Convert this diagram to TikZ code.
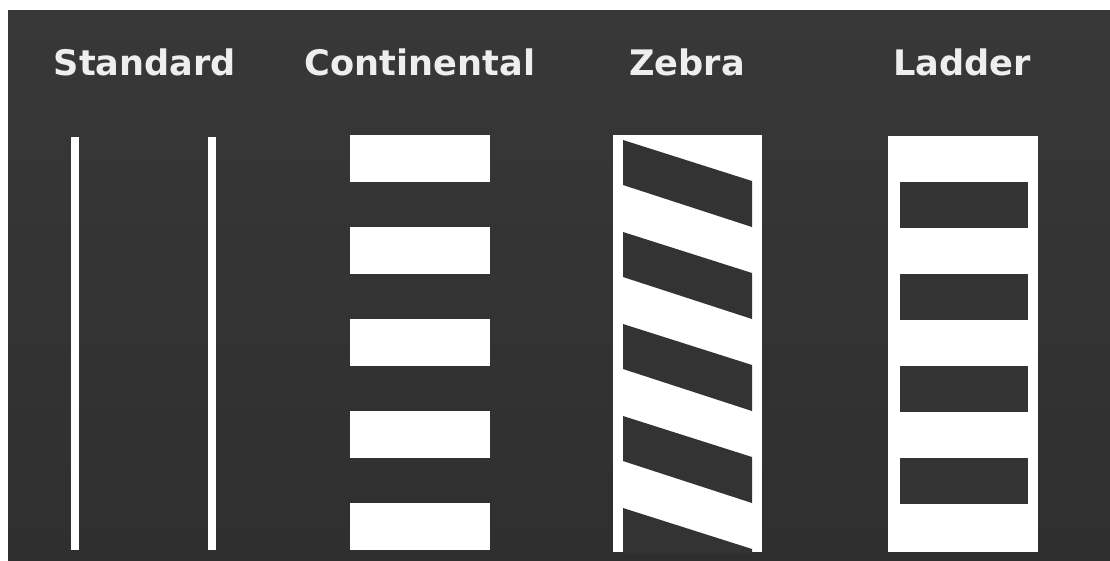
\documentclass[tikz,border=0pt]{standalone}
\usepackage{fontspec}
\setmainfont{DejaVu Sans}
\usepackage{tikz}

\definecolor{asphalttop}{HTML}{383838}
\definecolor{asphaltbot}{HTML}{2F2F2F}
\definecolor{asphalt}{HTML}{333333}
\definecolor{labelgray}{HTML}{EEEEEE}
\tikzset{title/.style={text=labelgray,font=\bfseries\fontsize{25}{30}\selectfont,anchor=base,inner sep=0pt}}

\begin{document}
\begin{tikzpicture}[x=0.025cm,y=-0.025cm]
\useasboundingbox (0,0) rectangle (1110,560);
\fill[white] (0,0) rectangle (1110,560);
\shade[top color=asphalttop,bottom color=asphaltbot] (8,10) rectangle (1110,560);
\node[title] (standard) at (145,75) {Standard};
\node[title] (continental) at (420,75) {Continental};
\node[title] (zebra) at (687,75) {Zebra};
\node[title] (ladder) at (962,75) {Ladder};
% standard
\fill[white] (71,137) rectangle (79,550);
\fill[white] (208,137) rectangle (216,550);
% continental
\fill[white] (350,135) rectangle (490,182);
\fill[white] (350,227) rectangle (490,274);
\fill[white] (350,319) rectangle (490,366);
\fill[white] (350,411) rectangle (490,458);
\fill[white] (350,503) rectangle (490,550);
% zebra
\fill[white] (613,135) rectangle (762,552);
\begin{scope}
\clip (623,135) rectangle (752,552);
\fill[asphalt] (623,140)--(752,181)--(752,227)--(623,185)--cycle;
\fill[asphalt] (623,232)--(752,273)--(752,319)--(623,277)--cycle;
\fill[asphalt] (623,324)--(752,365)--(752,411)--(623,369)--cycle;
\fill[asphalt] (623,416)--(752,457)--(752,503)--(623,461)--cycle;
\fill[asphalt] (623,508)--(752,549)--(752,595)--(623,553)--cycle;
\end{scope}
% ladder
\fill[white] (888,136) rectangle (1038,552);
\fill[asphalt] (900,182) rectangle (1028,228);
\fill[asphalt] (900,274) rectangle (1028,320);
\fill[asphalt] (900,366) rectangle (1028,412);
\fill[asphalt] (900,458) rectangle (1028,504);
\end{tikzpicture}
\end{document}
